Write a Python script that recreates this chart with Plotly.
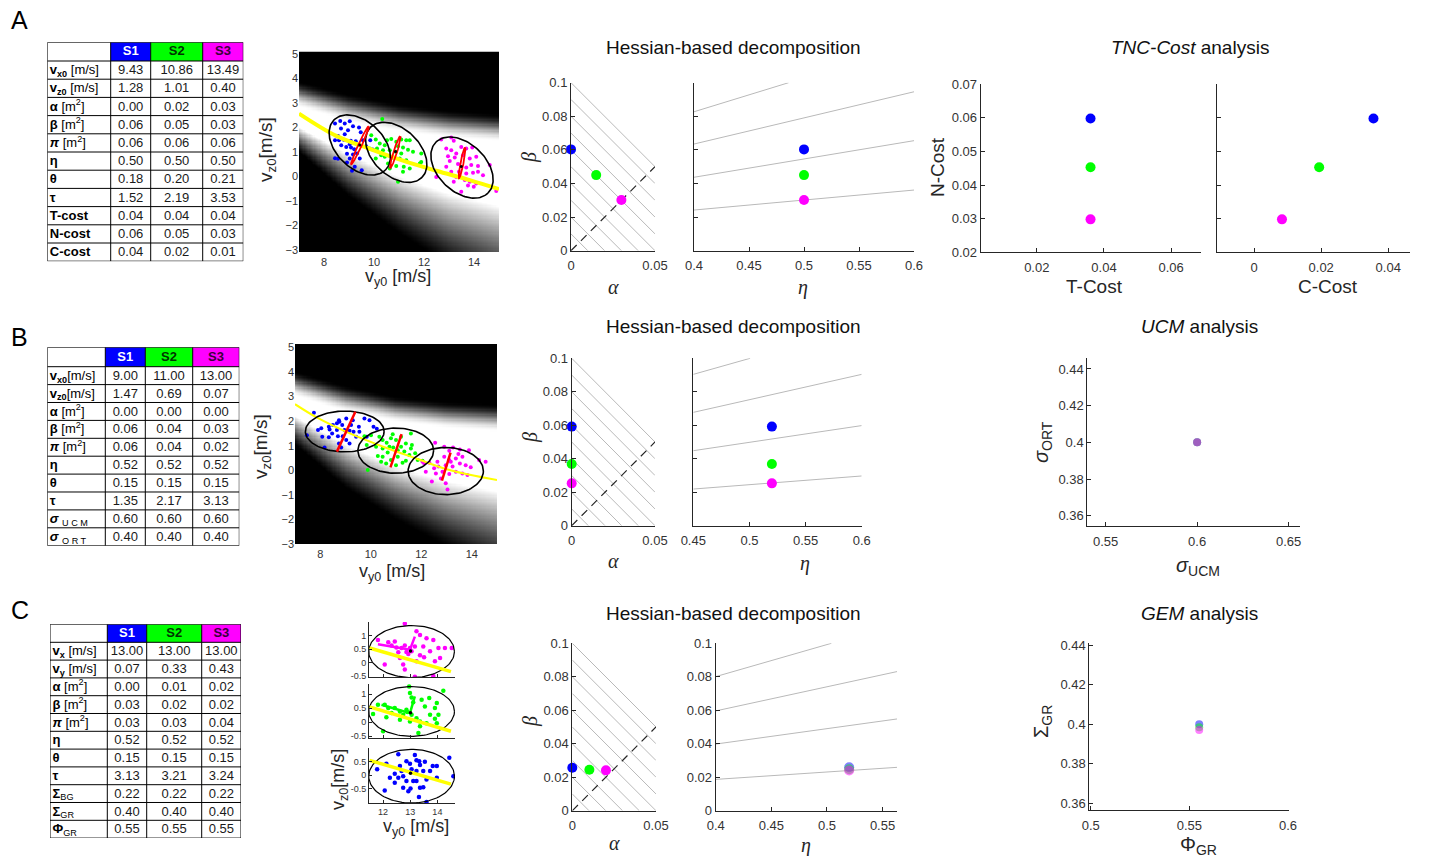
import numpy as np
import plotly.graph_objects as go

# reference canvas size and the page's body offset (8px default margin)
W0, H0 = 1445, 856
OX, OY = 8, 8
W, H = W0 - OX, H0 - OY
FONT = 'Liberation Sans, Arial, sans-serif'
SERIF = 'Liberation Serif, DejaVu Serif, serif'
BLUE, GREEN, MAG = '#0000ff', '#00ff00', '#ff00ff'
COLS = [BLUE, GREEN, MAG]

# ---------------- tables ----------------
A_rows = ['<b>v<sub>x0</sub></b> [m/s]', '<b>v<sub>z0</sub></b> [m/s]', '<b>α</b> [m<sup>2</sup>]',
          '<b>β</b> [m<sup>2</sup>]', '<b><i>π</i></b> [m<sup>2</sup>]', '<b>η</b>', '<b>θ</b>', '<b>τ</b>',
          '<b>T-cost</b>', '<b>N-cost</b>', '<b>C-cost</b>']
A_S1 = [9.43, 1.28, 0.00, 0.06, 0.06, 0.50, 0.18, 1.52, 0.04, 0.06, 0.04]
A_S2 = [10.86, 1.01, 0.02, 0.05, 0.06, 0.50, 0.20, 2.19, 0.04, 0.05, 0.02]
A_S3 = [13.49, 0.40, 0.03, 0.03, 0.06, 0.50, 0.21, 3.53, 0.04, 0.03, 0.01]

B_rows = ['<b>v<sub>x0</sub></b>[m/s]', '<b>v<sub>z0</sub></b>[m/s]', '<b>α</b> [m<sup>2</sup>]',
          '<b>β</b> [m<sup>2</sup>]', '<b><i>π</i></b> [m<sup>2</sup>]', '<b>η</b>', '<b>θ</b>', '<b>τ</b>',
          '<b><i>σ</i></b> <sub>U C M</sub>', '<b><i>σ</i></b> <sub>O R T</sub>']
B_S1 = [9.00, 1.47, 0.00, 0.06, 0.06, 0.52, 0.15, 1.35, 0.60, 0.40]
B_S2 = [11.00, 0.69, 0.00, 0.04, 0.04, 0.52, 0.15, 2.17, 0.60, 0.40]
B_S3 = [13.00, 0.07, 0.00, 0.03, 0.02, 0.52, 0.15, 3.13, 0.60, 0.40]

C_rows = ['<b>v<sub>x</sub></b> [m/s]', '<b>v<sub>y</sub></b> [m/s]', '<b>α</b> [m<sup>2</sup>]',
          '<b>β</b> [m<sup>2</sup>]', '<b><i>π</i></b> [m<sup>2</sup>]', '<b>η</b>', '<b>θ</b>', '<b>τ</b>',
          '<b>Σ</b><sub>BG</sub>', '<b>Σ</b><sub>GR</sub>', '<b>Φ</b><sub>GR</sub>']
C_S1 = [13.00, 0.07, 0.00, 0.03, 0.03, 0.52, 0.15, 3.13, 0.22, 0.40, 0.55]
C_S2 = [13.00, 0.33, 0.01, 0.02, 0.03, 0.52, 0.15, 3.21, 0.22, 0.40, 0.55]
C_S3 = [13.00, 0.43, 0.02, 0.02, 0.04, 0.52, 0.15, 3.24, 0.22, 0.40, 0.55]
HEAD = ['<b>S1</b>', '<b>S2</b>', '<b>S3</b>']

# ---------------- background band (solution manifold) ----------------
band_vy = [7, 9, 11, 13, 15]
A_up_black = [3.9, 3.35, 2.95, 2.7, 2.55]
A_up_white = [2.8, 2.2, 1.8, 1.55, 1.4]
A_lo_white = [2.0, 0.9, 0.0, -0.7, -1.2]
A_lo_black = [1.0, -0.8, -2.3, -3.6, -4.6]
B_up_black = [4.05, 3.45, 3.0, 2.8, 2.7]
B_up_white = [3.0, 2.35, 1.95, 1.7, 1.55]
B_lo_white = [2.2, 1.05, 0.15, -0.45, -0.85]
B_lo_black = [1.05, -0.7, -2.0, -3.1, -4.1]

# yellow manifold curves
A_yel_vy = [7, 8.49, 9.83, 11.16, 12.49, 13.83, 15]
A_yel_vz = [2.56, 1.65, 1.12, 0.64, 0.23, -0.15, -0.52]
B_yel_vy = [7, 7.86, 9.17, 10.49, 11.8, 13.12, 15]
B_yel_vz = [2.69, 2.15, 1.50, 0.96, 0.48, 0.01, -0.40]
C_yel_vy = [11.5, 14.5]
C_yel_vz = [0.54, -0.33]

# ---------------- scatter clouds ----------------
A_bx = [8.65, 9.03, 8.83, 8.44, 9.16, 9.40, 8.68, 8.96, 9.47, 8.83, 8.56, 8.44, 8.60, 8.79, 9.07, 9.27, 9.56, 9.40, 9.03,
        8.69, 8.89, 9.08, 9.21, 9.69, 9.85, 9.32, 8.44, 8.56, 8.92, 9.16, 9.43, 8.92, 9.23, 9.51, 9.12, 9.03, 9.95]
A_by = [2.26, 2.25, 2.15, 2.15, 2.04, 1.99, 1.95, 1.88, 1.80, 1.72, 1.65, 1.47, 1.47, 1.49, 1.45, 1.43, 1.47, 1.28, 1.31,
        1.27, 1.20, 1.18, 1.11, 1.23, 1.47, 0.93, 0.74, 0.72, 0.92, 0.89, 0.73, 0.57, 0.39, 0.25, 0.23, 0.73, 1.10]
A_gx = [10.33, 9.89, 10.07, 10.52, 10.69, 10.89, 11.09, 11.29, 11.43, 10.23, 10.43, 10.96, 11.16, 11.36, 10.12, 10.36,
        10.63, 10.87, 11.09, 11.56, 11.89, 10.07, 10.43, 10.76, 11.03, 11.29, 10.56, 10.89, 11.19, 11.43, 11.83, 10.63,
        10.96, 11.16, 10.29, 9.83, 11.89]
A_gy = [2.34, 1.68, 1.50, 1.47, 1.52, 1.41, 1.50, 1.47, 1.47, 1.34, 1.27, 1.23, 1.18, 1.09, 1.14, 1.07, 1.07, 1.00, 0.93,
        1.00, 0.93, 0.73, 0.80, 0.77, 0.73, 0.66, 0.53, 0.42, 0.39, 0.32, 0.53, 0.32, -0.22, 0.19, 0.86, 1.14, 0.59]
A_mx = [12.69, 13.09, 13.19, 13.49, 12.89, 13.09, 13.29, 13.69, 13.93, 12.96, 13.23, 13.56, 13.83, 14.09, 14.16, 13.89,
        13.69, 13.36, 13.03, 13.09, 13.40, 13.69, 13.96, 14.16, 14.36, 13.29, 13.63, 13.83, 14.09, 13.49, 12.49, 14.63,
        14.89, 13.99, 12.89, 13.76, 13.19]
A_my = [1.50, 1.58, 1.45, 1.20, 1.14, 1.07, 0.93, 1.14, 1.18, 0.82, 0.77, 0.86, 0.73, 0.80, 0.42, 0.46, 0.36, 0.50, 0.63,
        0.19, 0.19, 0.12, 0.15, 0.19, 0.05, -0.02, -0.15, -0.22, -0.29, -0.63, -0.02, 0.46, -0.59, -0.42, 0.39, -0.37, -0.22]

B_bx = [7.75, 7.47, 8.08, 8.04, 8.37, 8.34, 8.50, 8.66, 8.74, 8.76, 8.87, 8.66, 8.47, 8.70, 8.89, 8.96, 9.16, 9.32, 9.03,
        9.16, 8.83, 8.17, 9.29, 9.53, 9.75, 9.95, 10.11, 10.24, 9.84, 9.42, 9.03, 9.22, 8.34, 7.91, 8.74, 9.55]
B_by = [2.34, 1.43, 1.37, 1.71, 1.66, 1.34, 1.84, 1.91, 2.04, 1.98, 1.84, 1.64, 1.50, 1.39, 1.39, 1.64, 1.61, 1.57, 1.23,
        1.09, 0.93, 0.93, 2.04, 1.77, 2.11, 2.04, 1.77, 1.69, 1.37, 1.37, 2.11, 1.84, 1.77, 1.64, 1.09, 1.57]
B_gx = [9.75, 10.01, 9.84, 10.34, 10.47, 10.63, 10.80, 11.00, 11.20, 11.59, 11.39, 11.63, 11.20, 10.89, 10.74, 10.47,
        10.21, 11.07, 11.33, 11.53, 11.76, 11.86, 11.39, 11.07, 10.80, 10.47, 10.28, 10.61, 11.00, 11.26, 10.41, 9.88,
        12.05, 10.87, 11.59, 10.67]
B_gy = [1.39, 1.43, 1.03, 1.37, 1.23, 1.12, 1.30, 1.23, 1.37, 1.50, 1.09, 1.03, 0.96, 0.93, 0.96, 0.89, 0.96, 0.82, 0.76,
        0.62, 0.69, 0.42, 0.39, 0.55, 0.42, 0.55, 0.58, 0.28, 0.21, 0.31, 0.35, 0.01, 0.39, 1.47, 0.89, 0.72]
B_mx = [12.55, 12.91, 13.11, 13.26, 13.53, 13.63, 13.89, 13.11, 13.37, 12.91, 12.64, 12.32, 12.12, 12.51, 12.97, 13.24,
        13.53, 13.76, 13.96, 14.29, 14.55, 13.37, 13.11, 12.84, 12.58, 12.42, 12.97, 13.63, 13.83, 12.78, 13.17, 12.18,
        12.05, 13.47, 12.68, 13.04]
B_my = [1.12, 0.96, 0.80, 0.93, 0.85, 0.55, 0.82, 0.42, 0.48, 0.55, 0.35, 0.31, 0.28, 0.08, 0.21, 0.15, 0.28, 0.21, 0.12,
        0.42, 0.35, -0.06, -0.15, -0.06, -0.13, -0.46, -0.53, -0.13, -0.19, -0.33, 0.35, -0.06, 0.35, 0.66, 0.15, -0.78]

C_mx = [12.80, 13.23, 11.81, 12.19, 12.43, 12.80, 13.36, 13.60, 13.85, 14.04, 14.28, 14.53, 13.73, 13.51, 12.99, 13.05,
        12.86, 12.68, 12.49, 12.31, 12.06, 12.62, 12.74, 12.80, 13.91, 14.10, 13.36, 13.23, 13.17, 12.93, 13.85, 13.17,
        13.48, 12.56]
C_my = [1.44, 1.16, 0.84, 0.75, 0.78, 0.63, 1.02, 0.90, 0.84, 0.54, 0.54, 0.54, 0.42, 0.20, 0.54, 0.42, 0.39, 0.54, 0.56,
        0.63, -0.07, 0.17, -0.07, -0.25, 0.05, 0.17, 0.27, 0.05, 0.60, 0.32, -0.49, -0.52, 0.60, 0.38]
C_gx = [12.96, 12.99, 13.70, 13.42, 13.98, 14.22, 13.05, 13.11, 12.06, 11.81, 12.19, 12.43, 12.62, 12.89, 12.31, 11.63,
        12.74, 13.05, 13.23, 13.36, 13.60, 13.98, 13.91, 13.36, 13.30, 13.91, 14.04, 12.12, 12.62, 12.99, 12.00, 12.86,
        13.54, 13.73]
C_gy = [1.27, 1.04, 0.86, 0.80, 0.68, 1.12, 0.88, 0.71, 0.62, 0.62, 0.50, 0.50, 0.38, 0.36, 0.32, 0.29, 0.26, 0.26, 0.14,
        0.02, -0.04, -0.04, 0.12, -0.15, -0.39, 0.50, 0.26, 0.17, 0.08, 0.02, -0.33, 0.44, 0.56, 0.26]
C_bx = [12.56, 13.17, 12.86, 13.23, 13.33, 12.99, 13.36, 13.54, 13.83, 13.98, 12.12, 11.78, 12.43, 12.68, 12.74, 13.05,
        13.23, 13.48, 13.73, 12.25, 12.56, 12.86, 13.23, 13.60, 13.98, 12.43, 12.74, 13.01, 13.36, 13.48, 12.06, 12.93,
        13.32, 13.60, 13.11, 14.44, 14.59, 12.62]
C_by = [0.76, 0.73, 0.51, 0.54, 0.51, 0.41, 0.37, 0.49, 0.33, 0.33, 0.41, 0.21, 0.05, 0.15, -0.04, 0.21, 0.15, 0.15, 0.15,
        -0.10, -0.10, -0.22, -0.22, -0.16, -0.10, -0.28, -0.46, -0.49, -0.46, -0.44, -0.56, -0.59, -0.80, -0.98, -0.22,
        0.63, -0.04, 0.33]

# black confidence ellipses: centre x, centre y, semi-axis a, semi-axis b, angle [deg]
A_ell_cx = [9.43, 10.89, 13.52]
A_ell_cy = [1.28, 0.98, 0.36]
A_ell_a = [1.45, 1.45, 1.47]
A_ell_b = [0.95, 0.95, 0.97]
A_ell_ang = [-45, -45, -45]
B_ell_cx = [8.97, 10.99, 12.97]
B_ell_cy = [1.58, 0.80, -0.03]
B_ell_a = [1.56, 1.50, 1.49]
B_ell_b = [0.83, 0.92, 0.96]
C_ell_cx = [13.05, 13.05, 13.05]
C_ell_cy = [-0.04, 0.38, 0.41]   # bottom (S1), middle (S2), top (S3)
C_ell_a = [1.58, 1.58, 1.58]
C_ell_b = [0.98, 0.89, 0.96]

# red Hessian ellipses (A) and segments (B)
A_red_cx = [9.44, 10.85, 13.52]
A_red_cy = [1.27, 0.99, 0.55]
A_red_len = [0.85, 0.68, 0.64]
A_red_wid = [0.07, 0.07, 0.06]
A_red_ang = [65.6, 72.8, 79.0]
B_red_x0 = [8.66, 10.78, 12.82]
B_red_y0 = [0.76, 0.12, -0.42]
B_red_x1 = [9.39, 11.22, 13.16]
B_red_y1 = [2.38, 1.47, 0.72]
# C projection lines (middle green, top magenta)
C_g_line_x = [11.94, 12.99, 13.17]
C_g_line_y = [0.62, 0.32, 0.92]
C_m_line_x = [11.81, 12.99, 13.17]
C_m_line_y = [0.68, 0.48, 0.96]

# ---------------- Hessian-based decomposition ----------------
hatch_c = [0.01, 0.02, 0.03, 0.04, 0.05, 0.06, 0.07, 0.08, 0.09, 0.10]
diag_alpha = [0, 0.05]
A_alpha = [0, 0.015, 0.030]
A_beta = [0.0603, 0.0450, 0.0302]
A_eta = [0.5, 0.5, 0.5]
B_alpha = [0, 0, 0]
B_beta = [0.0592, 0.0369, 0.0253]
B_eta = [0.52, 0.52, 0.52]
C_alpha = [0, 0.0102, 0.0201]
C_beta = [0.0257, 0.0245, 0.0241]
C_eta = [0.52, 0.52, 0.52]
C_beta_eta = [0.0260, 0.0248, 0.0240]
A_iso = dict(e0=[0.4, 0.4, 0.4, 0.4], b0=[0.0242, 0.0437, 0.0635, 0.0827],
             e1=[0.6, 0.6, 0.6, 0.486], b1=[0.0361, 0.0655, 0.0946, 0.1])
B_iso = dict(e0=[0.45, 0.45, 0.45, 0.45], b0=[0.0219, 0.0448, 0.0677, 0.0904],
             e1=[0.6, 0.6, 0.6, 0.5006], b1=[0.0297, 0.0598, 0.0904, 0.1])
C_iso = dict(e0=[0.4, 0.4, 0.4, 0.4], b0=[0.0187, 0.0398, 0.0596, 0.0801],
             e1=[0.563, 0.563, 0.563, 0.504], b1=[0.0259, 0.0548, 0.0831, 0.1])

# ---------------- TNC / UCM / GEM ----------------
T_cost = [0.036, 0.036, 0.036]
N_cost = [0.0598, 0.0453, 0.0298]
C_cost = [0.0356, 0.0194, 0.0083]
sig_ucm = [0.6, 0.6, 0.6]
sig_ort = [0.4, 0.4, 0.4]
phi_gr = [0.555, 0.555, 0.555]
sig_gr = [0.4, 0.3985, 0.397]


# ================= helpers =================
def xd(l, r):
    return [(l - OX) / W, (r - OX) / W]


def yd(t, b):
    return [1 - (b - OY) / H, 1 - (t - OY) / H]


layout = dict(width=W, height=H, margin=dict(l=0, r=0, t=0, b=0, pad=0, autoexpand=False),
              paper_bgcolor='white', plot_bgcolor='rgba(0,0,0,0)', showlegend=False,
              font=dict(family=FONT, color='#262626'))
fig = go.Figure()
annots = []
shapes = []


def add_axes(n, xdom, ydom, xr, yr, xtv=None, xtt=None, ytv=None, ytt=None,
             xlab=True, ylab=True, lines=True, ticks='inside', tf=13, xstand=0, visible=True):
    xs = '' if n == 1 else str(n)
    common = dict(showgrid=False, zeroline=False, showline=lines, linecolor='#262626', linewidth=1,
                  automargin=False, ticks=ticks, ticklen=4, tickcolor='#262626', visible=visible,
                  tickfont=dict(size=tf, color='#333333', family=FONT))
    layout['xaxis' + xs] = dict(domain=xdom, range=xr, anchor='y' + xs, tickvals=xtv, ticktext=xtt,
                                showticklabels=xlab, ticklabelstandoff=xstand, **common)
    layout['yaxis' + xs] = dict(domain=ydom, range=yr, anchor='x' + xs, tickvals=ytv, ticktext=ytt,
                                showticklabels=ylab, **common)


def ax(n):
    s = '' if n == 1 else str(n)
    return dict(xaxis='x' + s, yaxis='y' + s)


def text(px, py, s, size=14, angle=0, family=FONT, color='#262626'):
    annots.append(dict(x=(px - OX) / W, y=1 - (py - OY) / H, xref='paper', yref='paper', text=s, showarrow=False,
                       font=dict(size=size, family=family, color=color), textangle=angle,
                       xanchor='center', yanchor='middle'))


def ellipse(cx, cy, a, b, ang):
    t = np.linspace(0, 2 * np.pi, 120)
    r = np.deg2rad(ang)
    x = cx + a * np.cos(t) * np.cos(r) - b * np.sin(t) * np.sin(r)
    y = cy + a * np.cos(t) * np.sin(r) + b * np.sin(t) * np.cos(r)
    return list(x) + [None], list(y) + [None]


def band(ub, uw, lw, lb):
    xs = np.linspace(7, 15, 161)
    ys = np.linspace(-3.2, 5.3, 171)
    X, Y = np.meshgrid(xs, ys)
    UB = np.interp(X, band_vy, ub)
    UW = np.interp(X, band_vy, uw)
    LW = np.interp(X, band_vy, lw)
    LB = np.interp(X, band_vy, lb)
    t1 = np.clip((UB - Y) / (UB - UW), 0, 1)
    t1 = t1 * t1 * (3 - 2 * t1)
    t2 = np.clip((Y - LB) / (LW - LB), 0, 1)
    t2 = t2 ** 1.3
    return xs, ys, np.minimum(t1, t2)


def draw_table(n, edges, top, hh, ch, rows, s1, s2, s3):
    nr = len(rows)
    bottom = top + hh + ch * nr
    add_axes(n, xd(edges[0], edges[-1]), yd(top, bottom), [edges[0], edges[-1]], [bottom, top],
             lines=False, ticks='', xlab=False, ylab=False, visible=False)
    s = str(n)
    for j, c in enumerate(COLS):
        shapes.append(dict(type='rect', xref='x' + s, yref='y' + s, x0=edges[j + 1], x1=edges[j + 2],
                           y0=top, y1=top + hh, fillcolor=c, line=dict(width=0), layer='below'))
    gx, gy = [], []
    hlines = [top, top + hh] + [top + hh + ch * (i + 1) for i in range(nr)]
    for yv in hlines:
        gx += [edges[0], edges[-1], None]
        gy += [yv, yv, None]
    for xv in edges:
        gx += [xv, xv, None]
        gy += [top, bottom, None]
    fig.add_trace(go.Scatter(x=gx, y=gy, mode='lines', line=dict(color='black', width=1), cliponaxis=False,
                             hoverinfo='skip', **ax(n)))
    cx = [(edges[j + 1] + edges[j + 2]) / 2 for j in range(3)]
    fig.add_trace(go.Scatter(x=cx, y=[top + hh / 2 + 0.5] * 3, text=HEAD, mode='text', cliponaxis=False,
                             textfont=dict(size=13, family=FONT, color=['white', '#003300', '#3a003a']), **ax(n)))
    ry = [top + hh + ch * (i + 0.55) for i in range(nr)]
    fig.add_trace(go.Scatter(x=[edges[0] + 2.5] * nr, y=ry, text=rows, mode='text', textposition='middle right',
                             cliponaxis=False, textfont=dict(size=13, family=FONT, color='black'), **ax(n)))
    for j, vals in enumerate([s1, s2, s3]):
        fig.add_trace(go.Scatter(x=[cx[j]] * nr, y=ry, text=['%.2f' % v for v in vals], mode='text',
                                 cliponaxis=False, textfont=dict(size=13, family=FONT, color='#1a1a1a'), **ax(n)))


# ================= tables =================
draw_table(16, [47.3, 110.7, 150.7, 202.7, 243.3], 42.3, 18.7, 18.2, A_rows, A_S1, A_S2, A_S3)
draw_table(17, [47.3, 105.3, 145.3, 192.7, 239.3], 347.3, 19.4, 17.9, B_rows, B_S1, B_S2, B_S3)
draw_table(18, [50.0, 107.3, 146.7, 201.7, 241.0], 624.3, 18.0, 17.8, C_rows, C_S1, C_S2, C_S3)


# ================= scatter panels A & B =================
def vel_panel(n, xdom, ydom, yr, bandp, yel_x, yel_y, yel_w, clouds):
    add_axes(n, xdom, ydom, [7, 15], yr, xtv=[8, 10, 12, 14], ytv=list(range(-3, 6)),
             lines=False, ticks='', tf=11, xstand=2)
    bx, by, bz = band(*bandp)
    fig.add_trace(go.Heatmap(x=bx, y=by, z=bz, colorscale=[[0, 'black'], [1, 'white']], zmin=0, zmax=1,
                             showscale=False, hoverinfo='skip', **ax(n)))
    for (cx, cy), c in zip(clouds, COLS):
        fig.add_trace(go.Scatter(x=cx, y=cy, mode='markers', marker=dict(color=c, size=4), **ax(n)))
    fig.add_trace(go.Scatter(x=yel_x, y=yel_y, mode='lines', line=dict(color='#ffff00', width=yel_w, shape='spline'),
                             **ax(n)))


vel_panel(1, xd(299, 499), yd(51.7, 252), [-3.08, 5.08],
          (A_up_black, A_up_white, A_lo_white, A_lo_black), A_yel_vy, A_yel_vz, 4,
          [(A_bx, A_by), (A_gx, A_gy), (A_mx, A_my)])
ex, ey = [], []
for i in range(3):
    a, b = ellipse(A_ell_cx[i], A_ell_cy[i], A_ell_a[i], A_ell_b[i], A_ell_ang[i])
    ex += a
    ey += b
fig.add_trace(go.Scatter(x=ex, y=ey, mode='lines', line=dict(color='black', width=1.6), **ax(1)))
rx, ry = [], []
for i in range(3):
    a, b = ellipse(A_red_cx[i], A_red_cy[i], A_red_len[i], A_red_wid[i], A_red_ang[i])
    rx += a
    ry += b
fig.add_trace(go.Scatter(x=rx, y=ry, mode='lines', line=dict(color='#ff0000', width=1.8), **ax(1)))
fig.add_trace(go.Scatter(x=[A_S1[0], A_S2[0], A_S3[0]], y=[A_S1[1], A_S2[1], A_S3[1]], mode='markers',
                         marker=dict(color='black', size=3), **ax(1)))

vel_panel(6, xd(295, 497), yd(344, 544), [-3.0, 5.14],
          (B_up_black, B_up_white, B_lo_white, B_lo_black), B_yel_vy, B_yel_vz, 2,
          [(B_bx, B_by), (B_gx, B_gy), (B_mx, B_my)])
ex, ey = [], []
for i in range(3):
    a, b = ellipse(B_ell_cx[i], B_ell_cy[i], B_ell_a[i], B_ell_b[i], 0)
    ex += a
    ey += b
fig.add_trace(go.Scatter(x=ex, y=ey, mode='lines', line=dict(color='black', width=1.6), **ax(6)))
rx, ry = [], []
for i in range(3):
    rx += [B_red_x0[i], B_red_x1[i], None]
    ry += [B_red_y0[i], B_red_y1[i], None]
fig.add_trace(go.Scatter(x=rx, y=ry, mode='lines', line=dict(color='#ff0000', width=2.5), **ax(6)))

# ================= scatter panel C (three stacked) =================
C_panels = [(12, yd(748, 803), [-1.02, 0.99], [-0.5, 0, 0.5], ['-0.5', '0', '0.5'], (C_bx, C_by), BLUE, 0, None),
            (11, yd(684, 738), [-0.57, 1.36], [-0.5, 0, 0.5, 1], ['-0.5', '0', '0.5', '1'], (C_gx, C_gy), GREEN, 1,
             (C_g_line_x, C_g_line_y)),
            (10, yd(622, 677), [-0.53, 1.5], [-0.5, 0, 0.5, 1], ['-0.5', '0', '0.5', '1'], (C_mx, C_my), MAG, 2,
             (C_m_line_x, C_m_line_y))]
for n, ydom, yr, ytv, ytt, pts, col, k, ln in C_panels:
    add_axes(n, xd(369, 455), ydom, [11.48, 14.65], yr, xtv=[12, 13, 14], xtt=['12', '13', '14'],
             ytv=ytv, ytt=ytt, xlab=(n == 12), tf=9)
    layout['xaxis' + str(n)]['ticklen'] = 3
    layout['yaxis' + str(n)]['ticklen'] = 3
    fig.add_trace(go.Scatter(x=pts[0], y=pts[1], mode='markers', marker=dict(color=col, size=4.5), **ax(n)))
    a, b = ellipse(C_ell_cx[k], C_ell_cy[k], C_ell_a[k], C_ell_b[k], 0)
    fig.add_trace(go.Scatter(x=a, y=b, mode='lines', line=dict(color='black', width=1.2), **ax(n)))
    fig.add_trace(go.Scatter(x=C_yel_vy, y=C_yel_vz, mode='lines', line=dict(color='#ffff00', width=3.5), **ax(n)))
    if ln is not None:
        fig.add_trace(go.Scatter(x=ln[0], y=ln[1], mode='lines', line=dict(color=col, width=2.5), **ax(n)))
    fig.add_trace(go.Scatter(x=[C_ell_cx[k] - 0.04], y=[[C_S1, C_S2, C_S3][k][1]], mode='markers',
                             marker=dict(color='black', size=3.5), **ax(n)))


# ================= Hessian panels =================
def hess_alpha(n, xdom, ydom, alpha, beta, op=1.0):
    add_axes(n, xdom, ydom, [0, 0.05], [0, 0.1], xtv=[0, 0.05], xtt=['0', '0.05'],
             ytv=[0, 0.02, 0.04, 0.06, 0.08, 0.1], ytt=['0', '0.02', '0.04', '0.06', '0.08', '0.1'], xstand=3)
    hx, hy = [], []
    for c in hatch_c:
        x1 = min(c, 0.05)
        hx += [0, x1, None]
        hy += [c, c - x1, None]
    fig.add_trace(go.Scatter(x=hx, y=hy, mode='lines', line=dict(color='#b9b9b9', width=1), **ax(n)))
    fig.add_trace(go.Scatter(x=diag_alpha, y=diag_alpha, mode='lines',
                             line=dict(color='#262626', width=1.2, dash='8px,6px'), **ax(n)))
    fig.add_trace(go.Scatter(x=alpha, y=beta, mode='markers', cliponaxis=False,
                             marker=dict(color=COLS, size=10, opacity=op), **ax(n)))


def hess_eta(n, xdom, ydom, xr, xtv, xtt, iso, eta, beta, ylab=False, op=1.0):
    add_axes(n, xdom, ydom, xr, [0, 0.1], xtv=xtv, xtt=xtt,
             ytv=[0, 0.02, 0.04, 0.06, 0.08, 0.1], ytt=['0', '0.02', '0.04', '0.06', '0.08', '0.1'], ylab=ylab,
             xstand=3)
    lx, ly = [], []
    for i in range(len(iso['e0'])):
        lx += [iso['e0'][i], iso['e1'][i], None]
        ly += [iso['b0'][i], iso['b1'][i], None]
    fig.add_trace(go.Scatter(x=lx, y=ly, mode='lines', line=dict(color='#b9b9b9', width=1), **ax(n)))
    fig.add_trace(go.Scatter(x=eta, y=beta, mode='markers', cliponaxis=False,
                             marker=dict(color=COLS, size=10, opacity=op), **ax(n)))


hess_alpha(2, xd(571, 655), yd(82.7, 250.7), A_alpha, A_beta)
hess_eta(3, xd(694, 914), yd(82.7, 250.7), [0.4, 0.6], [0.4, 0.45, 0.5, 0.55, 0.6],
         ['0.4', '0.45', '0.5', '0.55', '0.6'], A_iso, A_eta, A_beta)
hess_alpha(7, xd(571.7, 655), yd(358.3, 525.7), B_alpha, B_beta)
hess_eta(8, xd(693.3, 861.7), yd(358.3, 525.7), [0.45, 0.6], [0.45, 0.5, 0.55, 0.6],
         ['0.45', '0.5', '0.55', '0.6'], B_iso, B_eta, B_beta)
hess_alpha(13, xd(572.3, 656), yd(643.3, 810.7), C_alpha, C_beta)
hess_eta(14, xd(715.7, 897), yd(643.3, 810.7), [0.4, 0.563], [0.4, 0.45, 0.5, 0.55],
         ['0.4', '0.45', '0.5', '0.55'], C_iso, C_eta, C_beta_eta, ylab=True, op=0.5)

# ================= TNC cost =================
add_axes(4, xd(980.7, 1200.7), yd(84.3, 252.3), [0.0033, 0.0688], [0.02, 0.07],
         xtv=[0.02, 0.04, 0.06], xtt=['0.02', '0.04', '0.06'],
         ytv=[0.02, 0.03, 0.04, 0.05, 0.06, 0.07], ytt=['0.02', '0.03', '0.04', '0.05', '0.06', '0.07'], xstand=3)
fig.add_trace(go.Scatter(x=T_cost, y=N_cost, mode='markers', marker=dict(color=COLS, size=10), **ax(4)))
add_axes(5, xd(1217.3, 1410), yd(84.3, 252.3), [-0.011, 0.0465], [0.02, 0.07],
         xtv=[0, 0.02, 0.04], xtt=['0', '0.02', '0.04'],
         ytv=[0.02, 0.03, 0.04, 0.05, 0.06, 0.07], ylab=False, xstand=3)
fig.add_trace(go.Scatter(x=C_cost, y=N_cost, mode='markers', marker=dict(color=COLS, size=10), **ax(5)))

# ================= UCM =================
add_axes(9, xd(1087.3, 1300), yd(358.3, 526), [0.54, 0.6562], [0.3544, 0.4458],
         xtv=[0.55, 0.6, 0.65], xtt=['0.55', '0.6', '0.65'],
         ytv=[0.36, 0.38, 0.4, 0.42, 0.44], ytt=['0.36', '0.38', '0.4', '0.42', '0.44'], xstand=3)
fig.add_trace(go.Scatter(x=sig_ucm, y=sig_ort, mode='markers', marker=dict(color=COLS, size=8, opacity=0.5), **ax(9)))

# ================= GEM =================
add_axes(15, xd(1089.3, 1289), yd(642.7, 810), [0.4993, 0.6005], [0.3566, 0.4412],
         xtv=[0.5, 0.55, 0.6], xtt=['0.5', '0.55', '0.6'],
         ytv=[0.36, 0.38, 0.4, 0.42, 0.44], ytt=['0.36', '0.38', '0.4', '0.42', '0.44'], xstand=3)
fig.add_trace(go.Scatter(x=phi_gr, y=sig_gr, mode='markers', marker=dict(color=COLS, size=8, opacity=0.5),
                         **ax(15)))

# ================= texts =================
text(19, 20, 'A', 25, color='black')
text(19, 337, 'B', 25, color='black')
text(20, 610, 'C', 25, color='black')
for y in (47, 327, 613):
    text(734, y, 'Hessian-based decomposition', 19, color='#111111')
text(1190, 47, '<i>TNC-Cost</i> analysis', 19, color='#111111')
text(1199, 327, '<i>UCM</i> analysis', 19, color='#111111')
text(1199, 613, '<i>GEM</i> analysis', 19, color='#111111')

text(398, 277, 'v<sub>y0</sub> [m/s]', 18)
text(267, 150, 'v<sub>z0</sub>[m/s]', 19, angle=-90)
text(392, 572, 'v<sub>y0</sub> [m/s]', 18)
text(262, 447, 'v<sub>z0</sub>[m/s]', 19, angle=-90)
text(416, 827, 'v<sub>y0</sub> [m/s]', 18)
text(339, 780, 'v<sub>z0</sub>[m/s]', 18, angle=-90)

for (ax_x, ax_y, bx_, by_, ex_, ey_) in [(613, 287, 530, 158, 803, 287), (613, 561, 530, 438, 805, 563),
                                         (614, 843, 530, 722, 806, 845)]:
    text(ax_x, ax_y, '<i>α</i>', 20, family=SERIF)
    text(bx_, by_, '<i>β</i>', 20, angle=-90, family=SERIF)
    text(ex_, ey_, '<i>η</i>', 20, family=SERIF)

text(1094, 286, 'T-Cost', 19)
text(1328, 286, 'C-Cost', 19)
text(937, 167, 'N-Cost', 19, angle=-90)
text(1198, 566, '<i>σ</i><sub>UCM</sub>', 20)
text(1042, 442, '<i>σ</i><sub>ORT</sub>', 20, angle=-90)
text(1198, 845, 'Φ<sub>GR</sub>', 20)
text(1042, 722, 'Σ<sub>GR</sub>', 20, angle=-90)

layout['annotations'] = annots
layout['shapes'] = shapes
fig.update_layout(**layout)
fig.write_html('out.html')
